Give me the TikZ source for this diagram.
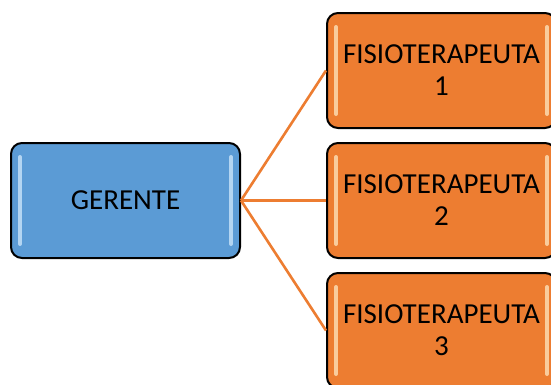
\documentclass[tikz,border=0pt]{standalone}
\usepackage{fontspec}
\setmainfont{Carlito}
\definecolor{gblue}{HTML}{5B9BD5}
\definecolor{gorange}{HTML}{ED7D31}
\definecolor{lblue}{HTML}{C9E4FA}
\definecolor{lorange}{HTML}{FCE0B8}
\begin{document}
\begin{tikzpicture}[x=1pt,y=-1pt,
  glossbox/.style={draw=black, line width=2pt, rounded corners=11pt,
    minimum width=229pt, minimum height=115pt, inner sep=0pt,
    font=\fontsize{29}{32}\selectfont, align=center, text=black,
    path picture={
      \draw[#1, line width=4pt, line cap=round, opacity=0.8]
        ([xshift=9pt,yshift=-14pt]path picture bounding box.north west) --
        ([xshift=9pt,yshift=14pt]path picture bounding box.south west);
      \draw[#1, line width=4pt, line cap=round, opacity=0.8]
        ([xshift=-9pt,yshift=-14pt]path picture bounding box.north east) --
        ([xshift=-9pt,yshift=14pt]path picture bounding box.south east);
    }},
  bluebox/.style={glossbox=lblue, fill=gblue},
  orangebox/.style={glossbox=lorange, fill=gorange},
  link/.style={draw=gorange, line width=2.6pt}]
\useasboundingbox (0,0) rectangle (551,384);
\fill[white] (0,0) rectangle (551,384);
\node[bluebox] (g) at (125.5,200.5) {GERENTE};
\node[orangebox] (f1) at (441.5,70.5) {FISIOTERAPEUTA\\1};
\node[orangebox] (f2) at (441.5,200.5) {FISIOTERAPEUTA\\2};
\node[orangebox] (f3) at (441.5,330.5) {FISIOTERAPEUTA\\3};
\draw[link] (g.east) -- (f1.west);
\draw[link] (g.east) -- (f2.west);
\draw[link] (g.east) -- (f3.west);
\end{tikzpicture}
\end{document}
